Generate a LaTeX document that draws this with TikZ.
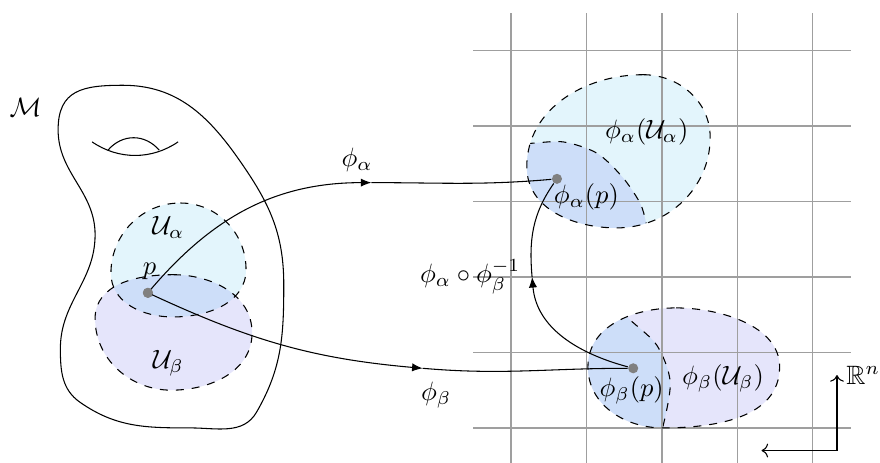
\documentclass[tikz,border=0pt]{standalone}
\usepackage{amsmath,amssymb}
\usepackage{xcolor}
\usepackage{tikz}
\usetikzlibrary{arrows.meta}

\definecolor{patchA}{RGB}{227,245,252}
\definecolor{patchB}{RGB}{229,229,251}
\definecolor{patchAB}{RGB}{205,222,249}

% regions, reused for fill, clip and outline
\def\mfold{(-5.14,4.54) to[out=0,in=125] (-3.60,3.55) to[out=-55,in=90] (-3.01,1.90)
  to[out=-90,in=60] (-3.37,0.21) to[out=-120,in=0] (-4.25,0.0) to[out=180,in=-35] (-5.71,0.34)
  to[out=145,in=-90] (-5.97,1.05) to[out=90,in=-90] (-5.51,2.56) to[out=90,in=-90] (-6.0,3.95)
  to[out=90,in=180,looseness=1.3] (-5.14,4.54) -- cycle}
\def\ualpha{(-4.38,2.98) to[out=0,in=90] (-3.51,2.10) to[out=-90,in=0] (-4.48,1.47)
  to[out=180,in=-90] (-5.30,2.05) to[out=90,in=180] (-4.38,2.98) -- cycle}
\def\ubeta{(-4.48,2.03) to[out=0,in=90] (-3.43,1.26) to[out=-90,in=0] (-4.50,0.50)
  to[out=180,in=-90] (-5.51,1.45) to[out=90,in=180] (-4.48,2.03) -- cycle}
\def\imgA{(1.75,4.68) to[out=0,in=90] (2.64,3.85) to[out=-90,in=0] (1.40,2.65)
  to[out=180,in=-90] (0.21,3.46) to[out=90,in=180] (1.75,4.68) -- cycle}
\def\imgB{(2.19,1.59) to[out=0,in=90,looseness=0.9] (3.56,0.81) to[out=-90,in=0] (2.01,0.0)
  to[out=180,in=-90] (1.02,0.81) to[out=90,in=180] (2.19,1.59) -- cycle}
\def\cutA{plot[smooth] coordinates {(0.0,3.80) (0.23,3.77) (0.69,3.79) (1.14,3.64) (1.48,3.32) (1.71,2.98) (1.79,2.72) (1.85,2.4)}}
\def\cutB{plot[smooth] coordinates {(1.35,1.75) (1.54,1.47) (1.93,1.10) (2.11,0.61) (2.01,0.0) (1.9,-0.3)}}

\begin{document}
\begin{tikzpicture}[
  patch/.style={dashed},
  dot/.style={circle, fill=gray, inner sep=0pt, minimum size=3.8pt},
  arrow/.style={-{Latex[length=1.4mm, width=1.1mm]}},
  gridline/.style={gray!75, line width=0.5pt}
]
\useasboundingbox (-6.77,-0.46) rectangle (4.89,5.67);

% the manifold
\draw \mfold;
\draw (-5.55,3.79) .. controls (-5.2,3.55) and (-4.76,3.55) .. (-4.41,3.79);
\draw (-5.34,3.68) .. controls (-5.15,3.90) and (-4.85,3.90) .. (-4.66,3.68);

% patches
\fill[patchA] \ualpha;
\fill[patchB] \ubeta;
\begin{scope}
  \clip \ualpha;
  \fill[patchAB] \ubeta;
\end{scope}
\draw[patch] \ualpha;
\draw[patch] \ubeta;

% images in R^n
\fill[patchA] \imgA;
\begin{scope}
  \clip \imgA;
  \fill[patchAB] \cutA -- (0,2.4) -- cycle;
  \draw[patch] \cutA;
\end{scope}
\fill[patchB] \imgB;
\begin{scope}
  \clip \imgB;
  \fill[patchAB] \cutB -- (0.8,-0.3) -- (0.8,1.75) -- cycle;
  \draw[patch] \cutB;
\end{scope}

\draw[gridline] (-0.5,-0.5) grid (4.5,5.5);
\draw[patch] \imgA;
\draw[patch] \imgB;

% points
\node[dot] (p) at (-4.81,1.79) {};
\node[dot] (pa) at (0.61,3.30) {};
\node[dot] (pb) at (1.62,0.79) {};
\coordinate (ta) at (-1.85,3.25);
\coordinate (tb) at (-1.17,0.79);
\coordinate (tt) at (0.28,2.0);

% charts
\draw[arrow] (p.center) to[out=50,in=180] (ta);
\draw (ta) to[out=0,in=185] (pa);
\draw[arrow] (p.center) to[out=-25,in=175] (tb);
\draw (tb) to[out=-5,in=180] (pb);
\draw[arrow] (pb) to[out=165,in=-85] (tt);
\draw (tt) to[out=95,in=235] (pa);
\node[dot] at (p) {};

% labels
\node (M) at (-6.43,4.24) {$\mathcal{M}$};
\node (Ua) at (-4.54,2.65) {$\mathcal{U}_\alpha$};
\node (Ub) at (-4.54,0.86) {$\mathcal{U}_\beta$};
\node (pl) at (-4.79,2.08) {$p$};
\node (fa) at (-2.04,3.55) {$\phi_\alpha$};
\node (fb) at (-0.99,0.44) {$\phi_\beta$};
\node (fab) at (-0.54,2.0) {$\phi_\alpha\circ\phi_\beta^{-1}$};
\node (iA) at (1.80,3.92) {$\phi_\alpha(\mathcal{U}_\alpha)$};
\node (ipa) at (1.0,3.06) {$\phi_\alpha(p)$};
\node (iB) at (2.81,0.66) {$\phi_\beta(\mathcal{U}_\beta)$};
\node (ipb) at (1.60,0.50) {$\phi_\beta(p)$};

% axes of R^n
\coordinate (ax) at (4.32,-0.30);
\coordinate (axy) at (4.32,0.70);
\coordinate (axx) at (3.32,-0.30);
\draw[->] (ax) -- (axy);
\draw[->] (ax) -- (axx);
\node[right] (Rn) at (axy) {$\mathbb{R}^n$};
\end{tikzpicture}
\end{document}
